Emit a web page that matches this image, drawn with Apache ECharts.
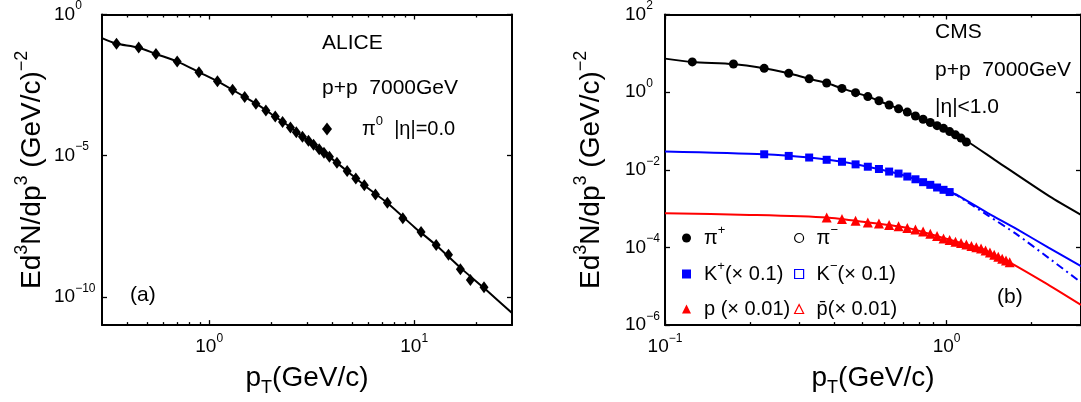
<!DOCTYPE html>
<html><head><meta charset="utf-8">
<script src="https://cdn.jsdelivr.net/npm/echarts@6/dist/echarts.min.js"></script>
<style>html,body{margin:0;padding:0;background:#fff}#c{width:1081px;height:402px}</style>
</head><body><div id="c"></div><script>
const FONT = 'Liberation Sans, Arial, Helvetica, sans-serif';

// ---------- Panel (a): ALICE pi0, p+p 7000 GeV ----------
const aliceX = [0.353,0.453,0.550,0.698,0.891,1.097,1.30,1.49,1.69,1.89,2.10,2.28,2.49,2.66,2.85,3.05,3.23,3.44,3.63,3.86,4.20,4.71,5.19,5.71,6.47,7.40,8.80,10.8,12.8,14.7,16.8,18.8,21.9];
const aliceY = [0.092,0.0673,0.0396,0.0216,0.0090,0.00429,0.00216,0.0012,6.9e-4,3.96e-4,2.46e-4,1.57e-4,1.0e-4,6.7e-5,4.64e-5,3.38e-5,2.46e-5,1.70e-5,1.27e-5,9.2e-6,5.6e-6,2.88e-6,1.57e-6,9.0e-7,4.18e-7,2.15e-7,6.05e-8,1.99e-8,6.9e-9,3.12e-9,9.5e-10,3.96e-10,2.21e-10];
const aliceFitX = [0.3,0.35,0.45,0.55,0.7,0.9,1.1,1.3,1.5,1.7,2.0,2.5,3.0,3.5,4.0,5.0,6.0,7.5,10,13,17,22,30];
const aliceFitY = [0.145,0.094,0.068,0.040,0.0215,0.0088,0.0043,0.00216,0.00117,6.8e-4,3.06e-4,1.0e-4,3.66e-5,1.53e-5,7.4e-6,1.98e-6,6.7e-7,1.95e-7,3.0e-8,6.1e-9,1.0e-9,2.0e-10,2.66e-11];

// ---------- Panel (b): CMS identified hadrons ----------
const pionX = [0.125,0.175,0.225,0.275,0.325,0.375,0.425,0.475,0.525,0.575,0.625,0.675,0.725,0.775,0.825,0.875,0.925,0.975,1.025,1.075,1.125,1.175];
const pionY = [6.0,5.3,4.1,3.05,2.2,1.72,1.25,0.97,0.77,0.60,0.467,0.371,0.306,0.243,0.200,0.165,0.137,0.117,0.0966,0.0794,0.0656,0.052];
const kaonX = [0.225,0.275,0.325,0.375,0.425,0.475,0.525,0.575,0.625,0.675,0.725,0.775,0.825,0.875,0.925,0.975,1.025];
const kaonY = [0.0251,0.0228,0.0207,0.0181,0.0161,0.0138,0.0120,0.0105,0.0090,0.0080,0.0067,0.0057,0.0048,0.0041,0.0035,0.00305,0.00267];
const protonX = [0.375,0.425,0.475,0.525,0.575,0.625,0.675,0.725,0.775,0.825,0.875,0.925,0.975,1.025,1.075,1.125,1.175,1.225,1.275,1.325,1.375,1.425,1.475,1.525,1.575,1.625,1.675];
const protonY = [5.9e-4,5.4e-4,4.86e-4,4.41e-4,4.16e-4,3.79e-4,3.50e-4,3.19e-4,2.89e-4,2.58e-4,2.26e-4,1.96e-4,1.69e-4,1.56e-4,1.41e-4,1.30e-4,1.19e-4,1.09e-4,1.01e-4,9.4e-5,8.4e-5,7.4e-5,6.5e-5,5.8e-5,5.15e-5,4.6e-5,4.14e-5];

const pionFitX = [0.1,0.125,0.175,0.225,0.275,0.325,0.375,0.425,0.525,0.625,0.725,0.825,0.925,1.025,1.175,1.5,2.32,3.0];
const pionFitY = [7.3,6.0,5.3,4.1,3.05,2.2,1.72,1.25,0.77,0.467,0.306,0.200,0.137,0.0966,0.056,0.017,2.06e-3,6.9e-4];
const kaonFitX = [0.1,0.225,0.325,0.425,0.525,0.625,0.725,0.825,0.925,1.025,1.094,1.4,1.77,2.3,3.0];
const kaonFitY = [0.0296,0.0251,0.0207,0.0161,0.0120,0.0090,0.0067,0.0048,0.0035,0.00267,0.0022,7.7e-4,3.0e-4,9.9e-5,3.3e-5];
const kaonMinusFitX = [1.05,1.094,1.4,1.77,2.3,3.0];
const kaonMinusFitY = [0.0025,0.00215,6.7e-4,2.2e-4,5.4e-5,1.26e-5];
const protonFitX = [0.1,0.2,0.375,0.525,0.725,0.925,1.125,1.325,1.525,1.675,2.23,3.0];
const protonFitY = [7.6e-4,6.9e-4,5.9e-4,4.41e-4,3.19e-4,1.96e-4,1.30e-4,9.4e-5,5.8e-5,4.14e-5,1.24e-5,3.3e-6];

// ---------- Axis ticks ----------
const xMajorA = [1, 10];
const xMinorA = [0.4,0.5,0.6,0.7,0.8,0.9,2,3,4,5,6,7,8,9,20];
const yMajorA = [1, 1e-5, 1e-10];
const xMajorB = [0.1, 1];
const xMinorB = [0.2,0.3,0.4,0.5,0.6,0.7,0.8,0.9,2];
const yMajorB = [100, 1, 0.01, 1e-4, 1e-6];

const zip = (xs, ys) => xs.map((x, i) => [x, ys[i]]);

const tok = (size, extra) => Object.assign({fontSize: size, fontFamily: FONT, color: '#000'}, extra || {});
const TICK_RICH = { b: tok(19), s: tok(12, {padding: [0, 0, 17, 0]}) };
const NAME_RICH = { b: tok(28), sup: tok(18, {padding: [0, 0, 19, 0]}), sub: tok(18, {padding: [20, 0, 0, 0]}) };
const powLabel = v => {
  const e = Math.round(Math.log10(v));
  return '{b|10}{s|' + (e < 0 ? '\u2212' + (-e) : e) + '}';
};
const LINE = {show: true, lineStyle: {color: '#000', width: 2}};
const NOLINE = {show: false};
const TICKSTYLE = {color: '#000', width: 1.3};

function xAxes(grid, min, max, majors, minors) {
  const base = {type: 'log', gridIndex: grid, min: min, max: max, splitLine: {show: false}, minorTick: {show: false}};
  return [
    Object.assign({}, base, {
      position: 'bottom', axisLine: LINE,
      axisTick: {inside: true, length: 5, customValues: majors, lineStyle: TICKSTYLE},
      axisLabel: {customValues: majors, formatter: powLabel, margin: 12, lineHeight: 20, rich: TICK_RICH},
      name: '{b|p}{sub|T}{b|(GeV/c)}', nameLocation: 'middle', nameGap: 29,
      nameTextStyle: {fontSize: 28, fontFamily: FONT, color: '#000', lineHeight: 32, rich: NAME_RICH}
    }),
    Object.assign({}, base, {
      position: 'bottom', axisLine: NOLINE,
      axisTick: {inside: true, length: 3, customValues: minors, lineStyle: TICKSTYLE},
      axisLabel: {show: false}
    }),
    Object.assign({}, base, {
      position: 'top', axisLine: LINE,
      axisTick: {inside: true, length: 5, customValues: majors, lineStyle: TICKSTYLE},
      axisLabel: {show: false}
    }),
    Object.assign({}, base, {
      position: 'top', axisLine: NOLINE,
      axisTick: {inside: true, length: 3, customValues: minors, lineStyle: TICKSTYLE},
      axisLabel: {show: false}
    })
  ];
}
function yAxes(grid, min, max, majors, labelMargin, nameGap) {
  const base = {type: 'log', gridIndex: grid, min: min, max: max, splitLine: {show: false}, minorTick: {show: false}};
  return [
    Object.assign({}, base, {
      position: 'left', axisLine: LINE,
      axisTick: {inside: true, length: 5, customValues: majors, lineStyle: TICKSTYLE},
      axisLabel: {customValues: majors, formatter: powLabel, align: 'left', margin: labelMargin, lineHeight: 20, rich: TICK_RICH},
      name: '{b|Ed}{sup|3}{b|N/dp}{sup|3}{b| (GeV/c)}{sup|\u22122}', nameLocation: 'middle', nameGap: nameGap,
      nameTextStyle: {fontSize: 28, fontFamily: FONT, color: '#000', lineHeight: 34, rich: NAME_RICH}
    }),
    Object.assign({}, base, {
      position: 'right', axisLine: LINE,
      axisTick: {inside: true, length: 5, customValues: majors, lineStyle: TICKSTYLE},
      axisLabel: {show: false}
    })
  ];
}

const BLACK = '#000000', BLUE = '#0000ff', RED = '#ff0000';
const lineSeries = (name, xi, yi, xs, ys, color, type) => ({
  name: name, type: 'line', xAxisIndex: xi, yAxisIndex: yi, data: zip(xs, ys),
  showSymbol: false, symbol: 'none', smooth: 0.25, silent: true,
  lineStyle: {color: color, width: 2, type: type || 'solid'}, itemStyle: {color: color}, z: 2
});
const scatterSeries = (name, xi, yi, xs, ys, symbol, size, color) => ({
  name: name, type: 'scatter', xAxisIndex: xi, yAxisIndex: yi, data: zip(xs, ys),
  symbol: symbol, symbolSize: size, itemStyle: {color: color, opacity: 1}, z: 3, silent: true
});

const LEG_RICH = { t: tok(20), s: tok(13, {padding: [0, 0, 15, 0]}) };
const legendText = {
  '\u03c00': '{t|\u03c0}{s|0}{t|  |\u03b7|=0.0}',
  '\u03c0+': '{t|\u03c0}{s|+}',
  '\u03c0\u2212': '{t|\u03c0}{s|\u2212}',
  'K+': '{t|K}{s|+}{t|(\u00d7 0.1)}',
  'K\u2212': '{t|K}{s|\u2212}{t|(\u00d7 0.1)}',
  'p': '{t|p (\u00d7 0.01)}',
  'p\u0304': '{t|p\u0304(\u00d7 0.01)}'
};
const legendBase = (textPad) => ({
  orient: 'vertical', selectedMode: false, itemGap: 9, padding: 0,
  formatter: n => legendText[n] || n,
  textStyle: {fontSize: 20, fontFamily: FONT, color: '#000', lineHeight: 26, padding: [0, 0, 0, textPad], rich: LEG_RICH}
});

const option = {
  animation: false,
  backgroundColor: '#ffffff',
  grid: [
    {left: 102, right: 569, top: 13, bottom: 70},
    {left: 665, right: -1, top: 13, bottom: 70}
  ],
  xAxis: xAxes(0, 0.3, 30, xMajorA, xMinorA).concat(xAxes(1, 0.1, 3, xMajorB, xMinorB)),
  yAxis: yAxes(0, 1e-11, 1, yMajorA, 48, 53).concat(yAxes(1, 1e-6, 100, yMajorB, 40, 57)),
  legend: [
    Object.assign(legendBase(25), {left: 322, top: 115, itemWidth: 10, itemHeight: 13,
      data: [{name: '\u03c00', icon: 'diamond'}]}),
    Object.assign(legendBase(8), {left: 682, top: 224, itemWidth: 9, itemHeight: 9,
      data: [{name: '\u03c0+', icon: 'circle'}, {name: 'K+', icon: 'rect'}, {name: 'p', icon: 'triangle'}]}),
    Object.assign(legendBase(8), {left: 794, top: 224, itemWidth: 9, itemHeight: 9,
      data: [
        {name: '\u03c0\u2212', icon: 'circle', itemStyle: {color: '#ffffff', borderColor: BLACK, borderWidth: 1.2}},
        {name: 'K\u2212', icon: 'rect', itemStyle: {color: '#ffffff', borderColor: BLUE, borderWidth: 1.2}},
        {name: 'p\u0304', icon: 'triangle', itemStyle: {color: '#ffffff', borderColor: RED, borderWidth: 1.2}}
      ]})
  ],
  graphic: [
    {type: 'text', x: 322, y: 43, style: {text: 'ALICE', fontSize: 21, fontFamily: FONT, fill: '#000', verticalAlign: 'middle'}},
    {type: 'text', x: 322, y: 88, style: {text: 'p+p  7000GeV', fontSize: 21, fontFamily: FONT, fill: '#000', verticalAlign: 'middle'}},
    {type: 'text', x: 130, y: 295, style: {text: '(a)', fontSize: 21, fontFamily: FONT, fill: '#000', verticalAlign: 'middle'}},
    {type: 'text', x: 935, y: 32, style: {text: 'CMS', fontSize: 21, fontFamily: FONT, fill: '#000', verticalAlign: 'middle'}},
    {type: 'text', x: 935, y: 70, style: {text: 'p+p  7000GeV', fontSize: 21, fontFamily: FONT, fill: '#000', verticalAlign: 'middle'}},
    {type: 'text', x: 935, y: 107, style: {text: '|\u03b7|<1.0', fontSize: 21, fontFamily: FONT, fill: '#000', verticalAlign: 'middle'}},
    {type: 'text', x: 997, y: 297, style: {text: '(b)', fontSize: 21, fontFamily: FONT, fill: '#000', verticalAlign: 'middle'}}
  ],
  series: [
    lineSeries('fitA', 0, 0, aliceFitX, aliceFitY, BLACK),
    scatterSeries('\u03c00', 0, 0, aliceX, aliceY, 'diamond', [9, 12], BLACK),

    lineSeries('fitPi', 4, 2, pionFitX, pionFitY, BLACK),
    lineSeries('fitK', 4, 2, kaonFitX, kaonFitY, BLUE),
    lineSeries('K\u2212', 4, 2, kaonMinusFitX, kaonMinusFitY, BLUE, [8, 4, 2, 4]),
    lineSeries('fitP', 4, 2, protonFitX, protonFitY, RED),
    scatterSeries('\u03c0+', 4, 2, pionX, pionY, 'circle', 9, BLACK),
    scatterSeries('K+', 4, 2, kaonX, kaonY, 'rect', 8, BLUE),
    scatterSeries('p', 4, 2, protonX, protonY, 'triangle', 10, RED),
    scatterSeries('\u03c0\u2212', 4, 2, [], [], 'emptyCircle', 8, BLACK),
    scatterSeries('p\u0304', 4, 2, [], [], 'emptyTriangle', 9, RED)
  ]
};
const chart = echarts.init(document.getElementById('c'), null, {renderer: 'canvas'});
chart.setOption(option);
</script></body></html>
